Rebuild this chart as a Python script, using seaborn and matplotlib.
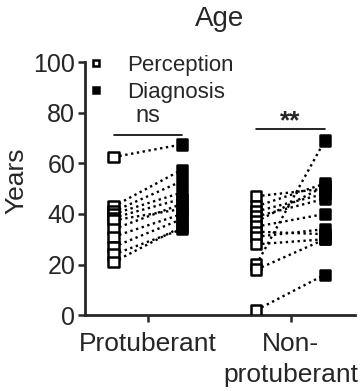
import pandas as pd
import seaborn as sns
import matplotlib.pyplot as plt
import numpy as np

# 数据
groups = ['Protuberant', 'Non-\nprotuberant']
prot_perception = [62.5, 43, 41, 40, 38.5, 37.5, 34, 31, 27, 24, 21]
prot_diagnosis = [67.5, 57.5, 53, 48.5, 46, 42, 44, 40, 38, 34, 35]
nonprot_perception = [47, 43, 41, 39, 37, 35, 33, 31, 28, 20, 18, 2]
nonprot_diagnosis = [50, 52, 48, 46, 51, 40, 32, 34, 30, 69, 30, 16]

offset = 0.24

# 长表格
rows = []
pid = 0
for g, (perc, diag) in enumerate([(prot_perception, prot_diagnosis),
                                  (nonprot_perception, nonprot_diagnosis)]):
    for p, d in zip(perc, diag):
        rows.append({'pid': pid, 'x': g - offset, 'age': p, 'kind': 'Perception'})
        rows.append({'pid': pid, 'x': g + offset, 'age': d, 'kind': 'Diagnosis'})
        pid += 1
df = pd.DataFrame(rows)

sns.set_style('ticks')
plt.rcParams['font.family'] = ['Liberation Sans', 'DejaVu Sans']

fig = plt.figure(figsize=(3.62, 3.91), dpi=100)
ax = fig.add_axes([0.235, 0.194, 0.745, 0.647])

# 配对虚线
sns.lineplot(data=df, x='x', y='age', units='pid', estimator=None,
             color='black', linestyle=(0, (1, 1.5)), linewidth=1.7, ax=ax, legend=False)

# 散点
sns.scatterplot(data=df, x='x', y='age', hue='kind', style='kind',
                hue_order=['Perception', 'Diagnosis'],
                palette={'Perception': 'white', 'Diagnosis': 'black'},
                markers={'Perception': 's', 'Diagnosis': 's'},
                edgecolor='black', linewidth=1.8, s=55, zorder=3, ax=ax)

# 显著性标记
ax.plot([0 - offset, 0 + offset], [71.2, 71.2], color='black', lw=1.2)
ax.text(0, 76.3, 'ns', ha='center', va='baseline', fontsize=17)
ax.plot([1 - offset, 1 + offset], [73.4, 73.4], color='black', lw=1.2)
ax.text(1, 73.8, '**', ha='center', va='baseline', fontsize=19, fontweight='bold')

ax.set_xlim(-0.44, 1.45)
ax.set_ylim(0, 100)
ax.set_yticks([0, 20, 40, 60, 80, 100])
ax.set_xticks([0, 1])
ax.set_xticklabels(groups, fontsize=19, linespacing=1.4)
ax.tick_params(axis='y', labelsize=18, width=1.8, length=5, pad=2)
ax.tick_params(axis='x', width=1.8, length=5, pad=7)
ax.set_xlabel('')
ax.set_ylabel('Years', fontsize=19)
ax.yaxis.set_label_coords(-0.211, 0.53)
ax.set_title('Age', fontsize=20, pad=26)
for side in ['left', 'bottom']:
    ax.spines[side].set_linewidth(2)
sns.despine(ax=ax)

ax.legend(loc='upper left', bbox_to_anchor=(0.0, 1.03), frameon=False,
          fontsize=16, handletextpad=0.9, labelspacing=0.3, markerscale=0.6,
          handlelength=1.0, borderpad=0, borderaxespad=0)

fig.savefig('out.png', dpi=100)
